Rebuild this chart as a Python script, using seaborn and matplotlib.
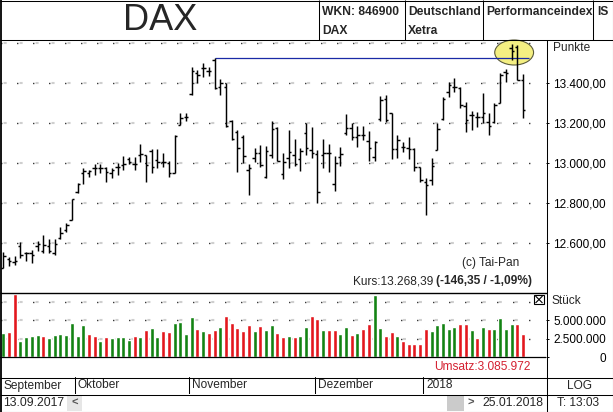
import numpy as np
import pandas as pd
import matplotlib
matplotlib.use("Agg")
import matplotlib.pyplot as plt
import seaborn as sns
from matplotlib.lines import Line2D
from matplotlib.patches import Ellipse, Rectangle

# =============================================================================
# Data: DAX daily bars (Xetra), 13.09.2017 - 25.01.2018
# =============================================================================
month_names = ["September", "Oktober", "November", "Dezember", "2018"]
month_days = [13, 20, 22, 19, 18]

opens = [12475, 12520, 12508, 12587, 12550, 12550, 12587, 12563, 12587, 12550, 12625, 12667, 12717,
         12858, 12953, 12950, 12975, 12978, 12975, 12950, 12983, 12992, 13022, 12997, 13042, 13042,
         13062, 13017, 13008, 13003, 12953, 13192, 13230,
         13345, 13450, 13475, 13463, 13517, 13383, 13383, 13212, 13158, 13133, 12967, 13025, 13053,
         12933, 13042, 13175, 12947, 13025, 13042, 13020, 13150, 13067,
         13047, 13042, 13053, 12897, 13033, 13153, 13175, 13133, 13142, 13113, 13030, 13220, 13320,
         13250, 13070, 13080, 13075, 13070, 12983,
         12908, 12917, 13067, 13220, 13358, 13383, 13375, 13287, 13242, 13233, 13230, 13208, 13208,
         13303, 13458, 13577, 13582, 13417]
highs = [12558, 12533, 12537, 12607, 12557, 12567, 12610, 12642, 12623, 12623, 12680, 12700, 12823,
         12900, 12975, 12967, 12997, 12997, 12983, 12975, 13000, 13037, 13030, 13033, 13095, 13042,
         13070, 13070, 13050, 13013, 13142, 13250, 13253,
         13483, 13467, 13503, 13483, 13525, 13420, 13403, 13217, 13167, 13142, 12997, 13075, 13092,
         13087, 13212, 13183, 13050, 13167, 13120, 13075, 13200, 13180,
         13067, 13120, 13097, 13037, 13083, 13247, 13200, 13187, 13187, 13163, 13113, 13337, 13342,
         13253, 13142, 13108, 13133, 13075, 12983,
         12925, 13025, 13203, 13333, 13408, 13425, 13383, 13308, 13263, 13258, 13353, 13253, 13303,
         13452, 13472, 13596, 13590, 13445]
lows = [12475, 12487, 12490, 12525, 12513, 12503, 12563, 12553, 12550, 12542, 12620, 12658, 12717,
        12850, 12895, 12933, 12942, 12950, 12908, 12925, 12942, 12967, 12997, 12967, 13008, 12908,
        12950, 12975, 12980, 12930, 12950, 13190, 13213,
        13342, 13403, 13430, 13437, 13370, 13342, 13183, 13117, 12958, 13000, 12842, 13008, 12983,
        12925, 13025, 13013, 12920, 12978, 12987, 12963, 13042, 13025,
        12803, 12975, 12958, 12863, 12987, 13142, 13117, 13080, 13117, 13013, 13013, 13213, 13208,
        13020, 13025, 13058, 13020, 12963, 12908,
        12742, 12892, 13067, 13217, 13333, 13358, 13275, 13158, 13167, 13180, 13200, 13142, 13203,
        13300, 13407, 13517, 13417, 13225]
closes = [12537, 12513, 12513, 12542, 12550, 12542, 12597, 12592, 12563, 12597, 12653, 12692, 12823,
          12897, 12963, 12963, 12975, 12978, 12958, 12967, 12983, 12997, 13008, 12997, 13047, 12992,
          12983, 13008, 13008, 12953, 13137, 13225, 13230,
          13462, 13442, 13475, 13463, 13375, 13403, 13187, 13120, 13075, 13037, 12975, 13053, 12992,
          13063, 13170, 13013, 13008, 13058, 12995, 13063, 13075, 13050,
          12858, 13050, 13050, 13003, 13047, 13175, 13130, 13142, 13142, 13075, 13108, 13317, 13217,
          13070, 13117, 13080, 13070, 12983, 12917,
          12892, 12987, 13170, 13320, 13392, 13383, 13292, 13217, 13242, 13233, 13250, 13187, 13292,
          13442, 13450, 13562, 13414.74, 13268.39]

volume_mio = [3.27, 3.41, 8.55, 2.18, 2.73, 2.91, 3.00, 2.86, 2.59, 3.00, 3.14, 3.00, 4.64,
              2.91, 4.36, 3.14, 2.86, 2.18, 2.73, 2.59, 2.68, 2.68, 2.36, 2.82, 2.68, 3.68,
              3.91, 2.68, 3.50, 3.36, 4.59, 4.73, 3.14,
              5.41, 3.77, 3.50, 3.23, 3.64, 4.09, 5.55, 4.64, 3.95, 3.50, 4.32, 3.50, 4.23,
              3.64, 4.32, 3.23, 2.73, 2.82, 2.73, 2.82, 4.05, 5.55,
              5.14, 3.64, 3.64, 3.64, 3.14, 4.10, 3.00, 3.28, 3.87, 4.50, 8.50, 3.96, 2.87,
              3.40, 2.87, 2.19, 1.78, 1.78, 1.78,
              3.87, 3.55, 4.37, 4.64, 3.87, 4.14, 4.50, 4.50, 3.73, 2.60, 4.10, 3.87, 3.87,
              5.33, 3.87, 4.50, 4.50, 3.085972]
volume_dir = list("GRRGGGGRGGGGG"
                  "GGRRGRGGGGRGRGGRRGGG"
                  "GRGRRGRRRRRGRGGRRGRGGR"
                  "RGRRGGRGRRGGRRGRRRR"
                  "RGGGGGRRGRGRGGGGRR")

price_ticks = [12600, 12800, 13000, 13200, 13400]
price_grid = [12600, 12800, 13000, 13200, 13400, 13600]
volume_ticks = [0, 2.5, 5.0]
volume_grid = [2.5, 5.0, 7.5]

GREEN = "#138313"
RED = "#e3171d"
W, H = 613, 412

# pixel layout of the bar positions
PX_FIRST, PX_STEP = 3.3, 5.711


def de(v, nd=2):
    s = f"{v:,.{nd}f}"
    return s.replace(",", "_").replace(".", ",").replace("_", ".")


def add_ax(x0, y0, x1, y1):
    return fig.add_axes([x0 / W, 1 - y1 / H, (x1 - x0) / W, (y1 - y0) / H])


def fig_line(x0, y0, x1, y1, lw=0.75, color="black"):
    fig.add_artist(Line2D([x0 / W, x1 / W], [1 - y0 / H, 1 - y1 / H],
                          transform=fig.transFigure, color=color, lw=lw,
                          solid_capstyle="butt"))


def ftext(x, y, s, **kw):
    kw.setdefault("va", "center")
    kw.setdefault("fontsize", 8.6)
    return fig.text(x / W, 1 - y / H, s, **kw)


sns.set_style("white")
plt.rcParams["font.family"] = ["Liberation Sans", "DejaVu Sans"]
plt.rcParams["lines.scale_dashes"] = False

fig = plt.figure(figsize=(W / 100, H / 100), dpi=100)
fig.patch.set_facecolor("white")

idx = np.arange(len(closes))
xlim = (-PX_FIRST / PX_STEP, (546 - PX_FIRST) / PX_STEP)
grid_end = 530 / 546


def style_axis(ax):
    for s in ax.spines.values():
        s.set_visible(False)
    ax.set_xlim(*xlim)
    ax.set_xlabel("")
    ax.set_ylabel("")
    ax.tick_params(axis="x", bottom=False, labelbottom=False)
    ax.yaxis.tick_right()
    ax.tick_params(axis="y", right=True, left=False, labelright=True, labelleft=False,
                   direction="out", length=2.2, width=0.72, pad=2.9, labelsize=8.5,
                   colors="black")


def dotted_rows(ax, levels):
    for lv in levels:
        ax.axhline(lv, xmin=0, xmax=grid_end, color="#cfcfcf", lw=1.5,
                   linestyle=(8.9, (2.2, 9.3)), zorder=1)
        ax.axhline(lv, xmin=0, xmax=grid_end, color="black", lw=1.0,
                   linestyle=(11.0, (0.8, 10.72)), zorder=1)


# -----------------------------------------------------------------------------
# Price panel (OHLC bars)
# -----------------------------------------------------------------------------
ax_p = add_ax(0, 39, 546, 293)
ax_p.set_ylim(13400 - (293 - 83.3) * 5, 13400 + (83.3 - 39) * 5)
style_axis(ax_p)
dotted_rows(ax_p, price_grid)

hi = np.array(highs)
top_i = int(np.argmax(hi))
ax_p.add_patch(Ellipse((top_i + 0.45, hi.max() - 42), width=6.8, height=125,
                       facecolor="#f4ef82", edgecolor="#5a5a3a", lw=0.8, zorder=2))

peak_i = int(np.argmax(hi[:60]))
ax_p.hlines(hi[peak_i], peak_i, (529 - PX_FIRST) / PX_STEP, color="#1a2aa6", lw=0.9, zorder=3)

t = 0.42
ax_p.vlines(idx, lows, highs, color="black", lw=1.05, zorder=4)
ax_p.hlines(opens, idx - t, idx, color="black", lw=1.05, zorder=4)
ax_p.hlines(closes, idx, idx + t, color="black", lw=1.05, zorder=4)

ax_p.set_yticks(price_ticks)
ax_p.set_yticklabels([de(v) for v in price_ticks])

# -----------------------------------------------------------------------------
# Volume panel
# -----------------------------------------------------------------------------
ax_v = add_ax(0, 293, 546, 377)
vol_df = pd.DataFrame({"idx": idx, "vol": volume_mio,
                       "dir": ["up" if d == "G" else "down" for d in volume_dir]})
sns.barplot(data=vol_df, x="idx", y="vol", hue="dir", palette={"up": GREEN, "down": RED},
            native_scale=True, width=0.7, dodge=False, saturation=1, errorbar=None,
            legend=False, ax=ax_v, zorder=3)
ax_v.set_ylim((357 - 377) / 18.3 * 2.5, (357 - 293) / 18.3 * 2.5)
style_axis(ax_v)
dotted_rows(ax_v, volume_grid)
ax_v.axhline(0, color="black", lw=0.9, zorder=4)
ax_v.set_yticks(volume_ticks)
ax_v.set_yticklabels(["0" if v == 0 else de(v * 1e6, 0) for v in volume_ticks])
ax_v.tick_params(axis="y", pad=41)
for lbl in ax_v.get_yticklabels():
    lbl.set_horizontalalignment("right")

# -----------------------------------------------------------------------------
# Month strip
# -----------------------------------------------------------------------------
ax_m = add_ax(0, 377, 546, 394)
ax_m.set_xlim(*xlim)
ax_m.set_ylim(0, 1)
ax_m.set_axis_off()
bounds = np.concatenate([[0], np.cumsum(month_days)]) - 0.5
for i, name in enumerate(month_names):
    left = xlim[0] if i == 0 else bounds[i]
    if i > 0:
        ax_m.axvline(bounds[i], color="black", lw=0.75)
    ax_m.annotate(name, xy=(left, 0.5), xycoords=("data", "axes fraction"),
                  xytext=(2.2, 0), textcoords="offset points", va="center", ha="left",
                  fontsize=8.6)

# -----------------------------------------------------------------------------
# Frame lines
# -----------------------------------------------------------------------------
fig_line(0.75, 0, 0.75, H, lw=1.3)
fig_line(0, 0.5, W, 0.5)
fig_line(0, H - 0.5, W, H - 0.5)
fig_line(W - 0.5, 0, W - 0.5, H)
fig_line(0, 39.5, W, 39.5)
for xd in (318.5, 404.5, 482.5, 592.5):
    fig_line(xd, 0, xd, 39.5)
fig_line(546.5, 39.5, 546.5, H)
fig_line(0, 293, 546.5, 293, lw=1.0)
fig_line(0, 377.5, W, 377.5)
fig_line(0, 394.5, W, 394.5)

# -----------------------------------------------------------------------------
# Header
# -----------------------------------------------------------------------------
ftext(160, 20, "DAX", ha="center", fontsize=26)
ftext(322, 12, "WKN: 846900", fontweight="bold", fontsize=8.7)
ftext(322, 31, "DAX", fontweight="bold", fontsize=8.7)
ftext(408, 12, "Deutschland", fontweight="bold", fontsize=8.7)
ftext(408, 31, "Xetra", fontweight="bold", fontsize=8.7)
ftext(486, 12, "Performanceindex", fontweight="bold", fontsize=8.7)
ftext(597, 12, "IS", fontweight="bold", fontsize=8.7)

# -----------------------------------------------------------------------------
# Annotations
# -----------------------------------------------------------------------------
ftext(553, 48, "Punkte")
ftext(551, 301, "Stück")
ftext(462, 263, "(c) Tai-Pan")

change = closes[-1] - closes[-2]
pct = change / closes[-2] * 100
bold = ftext(532, 281, f"({de(change)} / {de(pct)}%)", ha="right", fontweight="bold")
fig.canvas.draw()
bb = bold.get_window_extent()
fig.text((bb.x0 - 3) / fig.bbox.width, 1 - 281 / H, f"Kurs:{de(closes[-1])}",
         ha="right", va="center", fontsize=8.6)

ftext(531, 367, f"Umsatz:{de(volume_mio[-1] * 1e6, 0)}", ha="right", color="#d42030")

# close box in the volume panel
fig.add_artist(Rectangle((534 / W, 1 - 304 / H), 10 / W, 9 / H, transform=fig.transFigure,
                         facecolor="white", edgecolor="black", lw=0.8))
fig_line(535.5, 296, 542.5, 303, lw=0.8)
fig_line(535.5, 303, 542.5, 296, lw=0.8)

# right panel, bottom rows
ftext(579, 386, "LOG", ha="center")
ftext(557, 403, "T: 13:03")

# date row
ftext(3, 403, "13.09.2017", fontsize=8.8)
fig.add_artist(Rectangle((67 / W, 1 - 411 / H), 15 / W, 16 / H, transform=fig.transFigure,
                         facecolor="#e6e6e6", edgecolor="none"))
ftext(74.5, 402.5, "<", ha="center", color="#555555", fontweight="bold", fontsize=8)
fig.add_artist(Rectangle((447 / W, 1 - 411 / H), 17 / W, 16 / H, transform=fig.transFigure,
                         facecolor="#cbcbcb", edgecolor="none"))
ftext(471, 402.5, ">", ha="center", color="#555555", fontweight="bold", fontsize=8)
ftext(543, 403, "25.01.2018", ha="right", fontsize=8.8)

fig.savefig("out.png", dpi=100)
